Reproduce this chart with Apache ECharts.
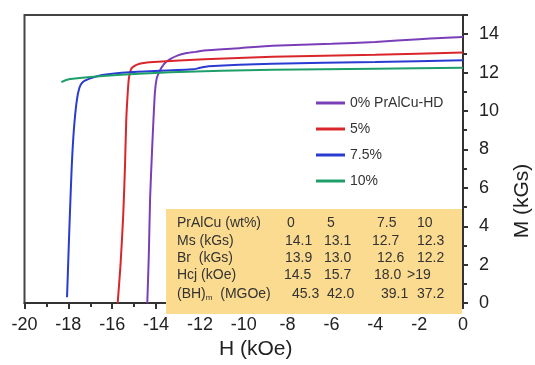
<!DOCTYPE html>
<html>
<head>
<meta charset="utf-8">
<script src="https://cdn.jsdelivr.net/npm/echarts@6/dist/echarts.min.js"></script>
<style>
  html, body { margin: 0; padding: 0; background: #fff; }
  #main { width: 535px; height: 365px; }
</style>
</head>
<body>
<div id="main"></div>
<script>
// 曲线数据 [H (kOe), M (kGs)]
const names = ['0% PrAlCu-HD', '5%', '7.5%', '10%']
const colors = ['#7a3fb8', '#d9262b', '#2a3bd1', '#1e9f6a']

const curve0 = [
  [-14.40, 0], [-14.33, 2.5], [-14.27, 5.5], [-14.18, 8.0], [-14.12, 9.5], [-14.05, 11.0],
  [-13.97, 11.7], [-13.85, 12.05], [-13.73, 12.3], [-13.55, 12.55], [-13.34, 12.72],
  [-13.0, 12.9], [-12.7, 13.0], [-12.2, 13.08], [-11.8, 13.15], [-10.2, 13.27],
  [-8.7, 13.4], [-6.0, 13.5], [-4.0, 13.6], [-2.0, 13.74], [-1.0, 13.8], [0, 13.86],
]
const curve5 = [
  [-15.75, 0], [-15.62, 2.0], [-15.5, 4.5], [-15.42, 7.0], [-15.36, 9.5], [-15.3, 10.8],
  [-15.24, 11.7], [-15.15, 12.15], [-15.05, 12.3], [-14.75, 12.46], [-14.1, 12.55],
  [-11.8, 12.7], [-8.7, 12.82], [-4.0, 12.93], [0, 13.05],
]
const curve75 = [
  [-18.06, 0.3], [-17.95, 4.0], [-17.85, 7.0], [-17.75, 9.0], [-17.62, 10.5], [-17.5, 11.2],
  [-17.35, 11.5], [-17.0, 11.7], [-16.45, 11.88], [-15.2, 12.02], [-12.3, 12.17],
  [-12.0, 12.25], [-11.6, 12.33], [-8.7, 12.46], [-4.0, 12.55], [0, 12.65],
]
const curve10 = [
  [-18.32, 11.5], [-18.1, 11.62], [-17.8, 11.68], [-16.45, 11.83], [-13.34, 12.02],
  [-8.7, 12.15], [-4.0, 12.2], [0, 12.25],
]
const curves = [curve0, curve5, curve75, curve10]

// 表格内容
const tableRowLabels = ['PrAlCu (wt%)', 'Ms (kGs)', 'Br  (kGs)', 'Hcj (kOe)', '(BH)m  (MGOe)']
const tableRows = [
  ['0', '5', '7.5', '10'],
  ['14.1', '13.1', '12.7', '12.3'],
  ['13.9', '13.0', '12.6', '12.2'],
  ['14.5', '15.7', '18.0', '>19'],
  ['45.3', '42.0', '39.1', '37.2'],
]
const tableColX = [
  [287, 327, 377, 417],
  [285, 324, 372, 417],
  [285, 324, 377, 417],
  [284, 324, 374, 407],
  [292, 327, 381, 417],
]
const tableRowY = [223, 241, 258, 275, 294]

const font = 'Liberation Sans, Arial, sans-serif'
const chartDom = document.getElementById('main')
const myChart = echarts.init(chartDom)

const graphics = [
  {
    type: 'rect',
    z: 1,
    shape: { x: 166, y: 209, width: 296, height: 105 },
    style: { fill: '#fbdb8f' },
  },
  {
    type: 'text',
    z: 5,
    x: 522,
    y: 201,
    rotation: Math.PI / 2,
    style: { text: 'M (kGs)', font: '21px ' + font, fill: '#222', align: 'center', verticalAlign: 'middle' },
  },
]
tableRowLabels.forEach((label, i) => {
  if (i === 4) {
    graphics.push({
      type: 'text',
      z: 5,
      x: 177,
      y: tableRowY[i],
      style: {
        text: '(BH){s|m}  (MGOe)',
        font: '14px ' + font,
        fill: '#333',
        verticalAlign: 'middle',
        rich: { s: { fontSize: 8, fontFamily: font, fill: '#333', padding: [8, 0, 0, 0] } },
      },
    })
  }
  else {
    graphics.push({
      type: 'text',
      z: 5,
      x: 177,
      y: tableRowY[i],
      style: { text: label, font: '14px ' + font, fill: '#333', verticalAlign: 'middle' },
    })
  }
  tableRows[i].forEach((v, j) => {
    graphics.push({
      type: 'text',
      z: 5,
      x: tableColX[i][j],
      y: tableRowY[i],
      style: { text: v, font: '14px ' + font, fill: '#333', verticalAlign: 'middle' },
    })
  })
})

const option = {
  animation: false,
  grid: {
    left: 24.5,
    right: 72,
    top: 15,
    bottom: 50,
    show: true,
    borderColor: '#444',
    borderWidth: 2,
  },
  legend: {
    orient: 'vertical',
    left: 311,
    top: 91,
    itemWidth: 29,
    itemHeight: 3,
    itemGap: 12,
    icon: 'rect',
    data: names,
    textStyle: { fontSize: 14, fontFamily: font, color: '#333' },
  },
  xAxis: {
    type: 'value',
    min: -20,
    max: 0,
    interval: 2,
    name: 'H (kOe)',
    nameLocation: 'middle',
    nameGap: 33,
    nameTextStyle: { fontSize: 21, fontFamily: font, color: '#222', padding: [0, 0, 0, 24] },
    axisLine: { onZero: false, lineStyle: { color: '#333', width: 2 } },
    axisTick: { length: 6, lineStyle: { color: '#333', width: 2 } },
    minorTick: { show: true, splitNumber: 2, length: 4, lineStyle: { color: '#333', width: 2 } },
    axisLabel: { fontSize: 18, fontFamily: font, color: '#222', margin: 13 },
    splitLine: { show: false },
  },
  yAxis: {
    type: 'value',
    position: 'right',
    min: 0,
    max: 15,
    interval: 2,
    axisLine: { show: true, onZero: false, lineStyle: { color: '#333', width: 2 } },
    axisTick: { show: true, length: 5, lineStyle: { color: '#333', width: 2 } },
    minorTick: { show: true, splitNumber: 2, length: 4, lineStyle: { color: '#333', width: 2 } },
    axisLabel: {
      fontSize: 18,
      fontFamily: font,
      color: '#222',
      margin: 16,
      formatter: v => (v % 2 === 0 ? String(v) : ''),
    },
    splitLine: { show: false },
  },
  series: curves.map((d, i) => ({
    name: names[i],
    type: 'line',
    data: d,
    symbol: 'none',
    smooth: 0.2,
    z: 3,
    lineStyle: { color: colors[i], width: 2 },
    itemStyle: { color: colors[i] },
  })),
  graphic: graphics,
}

option && myChart.setOption(option)
</script>
</body>
</html>
